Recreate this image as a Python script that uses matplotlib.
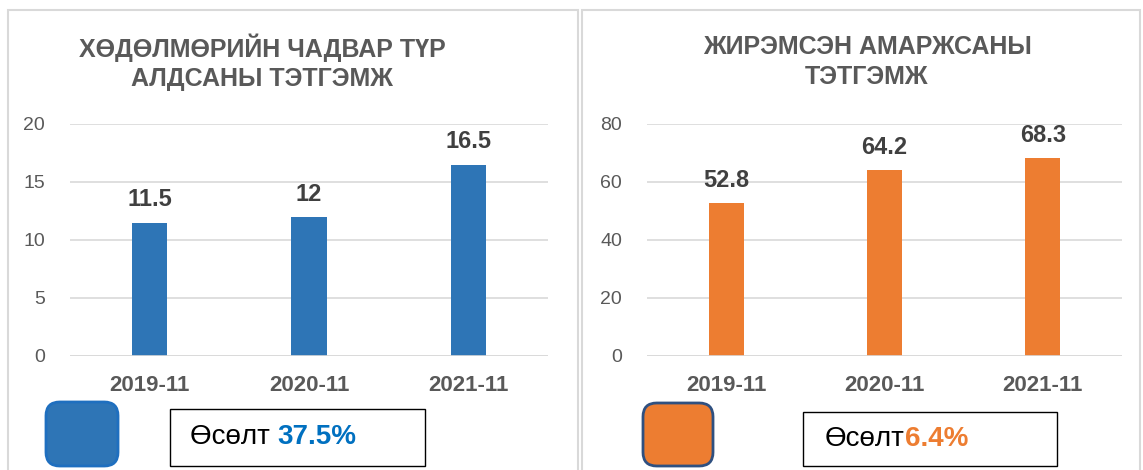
import matplotlib
matplotlib.use("Agg")
import matplotlib.pyplot as plt
from matplotlib.patches import Rectangle, FancyBboxPatch
from matplotlib.text import Annotation

plt.rcParams['font.family'] = ['Liberation Sans', 'DejaVu Sans']

# data
years = ['2019-11', '2020-11', '2021-11']
disability = [11.5, 12, 16.5]
maternity = [52.8, 64.2, 68.3]
titles = ['ХӨДӨЛМӨРИЙН ЧАДВАР ТҮР\nАЛДСАНЫ ТЭТГЭМЖ', 'ЖИРЭМСЭН АМАРЖСАНЫ\nТЭТГЭМЖ']
growth = ['37.5%', '6.4%']
bar_colors = ['#2E75B6', '#ED7D31']
growth_colors = ['#0070C0', '#ED7D31']

W, H = 1143, 470
fig = plt.figure(figsize=(W / 100, H / 100), dpi=100)


def fx(px):
    return px / W


def fy(py):
    return 1 - py / H


# panel borders
for x0, x1 in [(8, 578), (582, 1140)]:
    fig.patches.append(Rectangle((fx(x0), fy(480)), fx(x1 - x0), (480 - 10) / H,
                                 transform=fig.transFigure, fill=False,
                                 edgecolor='#D9D9D9', lw=1.5))

axes_x = [(70, 548), (647, 1122)]
series = [disability, maternity]
ylims = [(20, 5), (80, 20)]
title_cx = [262, 867]

for i in range(2):
    x0, x1 = axes_x[i]
    ax = fig.add_axes([fx(x0), fy(356), fx(x1 - x0), (356 - 124) / H])
    bars = ax.bar(range(3), series[i], width=0.22, color=bar_colors[i])
    top, step = ylims[i]
    ax.set_ylim(0, top)
    ax.set_xlim(-0.5, 2.5)
    ax.set_yticks(range(0, top + 1, step))
    ax.set_xticks(range(3))
    ax.set_xticklabels(years, fontsize=16, fontweight='bold', color='#595959')
    ax.tick_params(axis='y', labelsize=14, colors='#595959', length=0, pad=18)
    ax.tick_params(axis='x', length=0, pad=14)
    ax.yaxis.grid(True, color='#D9D9D9', lw=1.2)
    ax.set_axisbelow(True)
    for s in ax.spines.values():
        s.set_visible(False)
    ax.axhline(0, color='#D9D9D9', lw=1.2)
    ax.bar_label(bars, labels=[f'{v:g}' for v in series[i]], padding=8,
                 fontsize=17, fontweight='bold', color='#404040')
    fig.text(fx(title_cx[i]), fy(62), titles[i], ha='center', va='center',
             fontsize=18, fontweight='bold', color='#595959', linespacing=1.28)

# bottom growth boxes
squares = [(46, 402, 72, 64, '#2E75B6', '#1F6FBF'), (643, 403, 70, 63, '#ED7D31', '#2F5080')]
boxes = [(170, 409, 255, 57), (803, 412, 254, 54)]
text_x = [190, 825]
sep = [' ', '']
for i in range(2):
    x, y, w, h, fc, ec = squares[i]
    fig.patches.append(FancyBboxPatch((fx(x), fy(y + h)), fx(w), h / H,
                                      boxstyle='round,pad=0,rounding_size=0.012',
                                      transform=fig.transFigure, facecolor=fc,
                                      edgecolor=ec, lw=2, mutation_aspect=W / H))
    bx, by, bw, bh = boxes[i]
    fig.patches.append(Rectangle((fx(bx), fy(by + bh)), fx(bw), bh / H,
                                 transform=fig.transFigure, facecolor='white',
                                 edgecolor='black', lw=1))
    t = fig.text(fx(text_x[i]), fy(by + bh / 2), 'Өсөлт' + sep[i], ha='left',
                 va='center', fontsize=20, color='black', zorder=5)
    ann = Annotation(growth[i], xy=(1, 0), xycoords=t, ha='left', va='bottom',
                     fontsize=20, fontweight='bold', color=growth_colors[i],
                     annotation_clip=False, zorder=5)
    fig.add_artist(ann)

fig.savefig('out.png', dpi=100)
